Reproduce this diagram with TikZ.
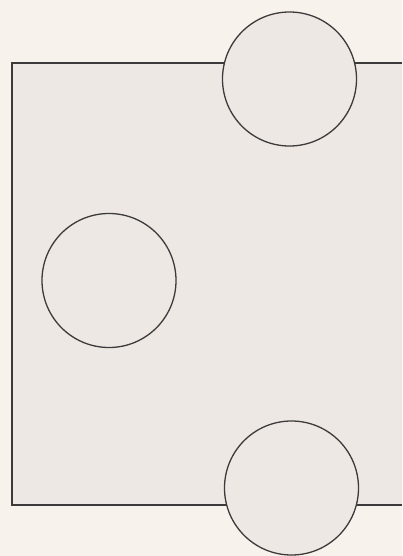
\documentclass[tikz,border=0pt]{standalone}
\definecolor{paper}{HTML}{F8F2EC}
\definecolor{panel}{HTML}{EDE8E3}
\definecolor{ink}{HTML}{3C3A3A}
\begin{document}
\begin{tikzpicture}[x=1pt,y=-1pt,
  port/.style={circle, draw=ink, fill=panel, line width=1.3pt, minimum size=134pt, inner sep=0pt},
  edge/.style={draw=ink, line width=1.3pt}]
\fill[paper] (0,0) rectangle (402,556);
\useasboundingbox (0,0) rectangle (402,556);
\fill[panel] (12,63) rectangle (402,505);
\coordinate (tr) at (402,63);
\coordinate (tl) at (12,63);
\coordinate (bl) at (12,505);
\coordinate (br) at (402,505);
\draw[edge] (tr) -- (tl) -- (bl) -- (br);
\node[port] (top) at (289.5,79) {};
\node[port] (left) at (109,280.5) {};
\node[port] (bottom) at (291.5,488) {};
\end{tikzpicture}
\end{document}
